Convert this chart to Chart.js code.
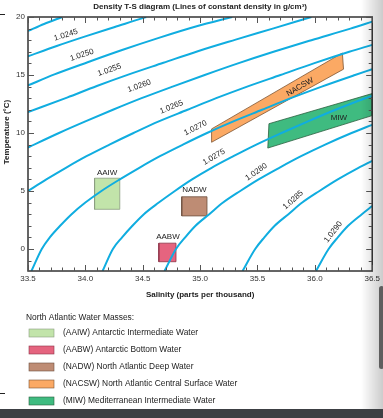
<!DOCTYPE html>
<html>
<head>
<meta charset="utf-8">
<script src="https://cdn.jsdelivr.net/npm/chart.js@4.4.1/dist/chart.umd.min.js"></script>
<style>
  html, body { margin: 0; padding: 0; background: #fff; }
  #wrap { position: relative; width: 383px; height: 418px; overflow: hidden; }
  canvas { position: absolute; left: 0; top: 0; }
  .shade { position: absolute; right: 0; top: 0; width: 22px; height: 409px;
    background: linear-gradient(to right, rgba(0,0,0,0), rgba(0,0,0,0.2)); }
  .scroll { position: absolute; left: 379px; top: 286px; width: 5px; height: 83px; background: #5e5e5e; border-radius: 3px; }
  .bar { position: absolute; left: 0; top: 409px; width: 383px; height: 9px; background: #3c3f43; }
  .mark { position: absolute; left: 0; width: 5px; height: 1px; background: #222; }
</style>
</head>
<body>
<div id="wrap">
  <canvas id="chart" width="383" height="418"></canvas>
  <div class="shade"></div>
  <div class="scroll"></div>
  <div class="bar"></div>
  <div class="mark" style="top:14px"></div>
  <div class="mark" style="top:393px"></div>
</div>
<script>
const FONT = '"Liberation Sans", Arial, Helvetica, sans-serif';

// lines of constant density, [salinity, temperature]
const densities = ['1.0240', '1.0245', '1.0250', '1.0255', '1.0260', '1.0265',
                   '1.0270', '1.0275', '1.0280', '1.0285', '1.0290'];
const c0240 = [[33.5, 18.8], [33.64, 19.4], [33.8, 20]];
const c0245 = [[33.5, 16.6], [33.75, 17.5], [34.0, 18.33], [34.25, 19.12], [34.5, 19.9], [34.53, 20]];
const c0250 = [[33.5, 14.1], [33.73, 15.05], [34.02, 16.1], [34.32, 17.15], [34.64, 18.2], [34.97, 19.2], [35.28, 20]];
const c0255 = [[33.5, 11.8], [33.84, 13.05], [34.1, 14.05], [34.38, 15.05], [34.68, 16.05], [34.98, 17.05],
               [35.31, 18.05], [35.64, 19.02], [35.97, 20]];
const c0260 = [[33.5, 8.75], [33.77, 10], [34.0, 11], [34.24, 12], [34.49, 13], [34.76, 14], [35.04, 15],
               [35.33, 16], [35.64, 17], [35.97, 18], [36.31, 19], [36.5, 19.6]];
const c0265 = [[33.5, 5.0], [33.66, 6], [33.83, 7], [34.01, 8], [34.21, 9], [34.42, 10], [34.64, 11],
               [34.89, 12], [35.14, 13], [35.41, 14], [35.7, 15], [35.99, 16], [36.3, 17], [36.5, 17.6]];
const c0270 = [[33.53, -1.9], [33.62, 0], [33.69, 1], [33.78, 2], [33.88, 3], [34.0, 4], [34.14, 5],
               [34.3, 6], [34.47, 7], [34.65, 8], [34.85, 9], [35.06, 10], [35.29, 11], [35.54, 12],
               [35.79, 13], [36.06, 14], [36.35, 15], [36.5, 15.5]];
const c0275 = [[34.15, -1.9], [34.24, 0], [34.32, 1], [34.41, 2], [34.51, 3], [34.64, 4], [34.78, 5],
               [34.93, 6], [35.1, 7], [35.29, 8], [35.49, 9], [35.71, 10], [35.94, 11], [36.18, 12],
               [36.44, 13], [36.5, 13.2]];
const c0280 = [[34.69, -1.9], [34.79, 0], [34.87, 1], [34.96, 2], [35.08, 3], [35.2, 4], [35.35, 5],
               [35.51, 6], [35.69, 7], [35.88, 8], [36.09, 9], [36.32, 10], [36.5, 10.7]];
const c0285 = [[35.37, -1.9], [35.48, 0], [35.56, 1], [35.65, 2], [35.77, 3], [35.89, 4], [36.04, 5],
               [36.2, 6], [36.38, 7], [36.5, 7.6]];
const c0290 = [[36.01, -1.9], [36.12, 0], [36.2, 1], [36.29, 2], [36.41, 3], [36.5, 3.7]];
const isopycnals = [c0240, c0245, c0250, c0255, c0260, c0265, c0270, c0275, c0280, c0285, c0290];

// water masses (corners as [salinity, temperature])
const massCodes = ['AAIW', 'AABW', 'NADW', 'NACSW', 'MIW'];
const massNames = ['Antarctic Intermediate Water', 'Antarctic Bottom Water', 'North Atlantic Deep Water',
                   'North Atlantic Central Surface Water', 'Mediterranean Intermediate Water'];
const aaiw  = [[34.08, 3.42], [34.3, 3.42], [34.3, 6.1], [34.08, 6.1]];
const aabw  = [[34.64, -1.1], [34.79, -1.1], [34.79, 0.5], [34.64, 0.5]];
const nadw  = [[34.84, 2.85], [35.06, 2.85], [35.06, 4.5], [34.84, 4.5]];
const nacsw = [[35.1, 9.2], [35.1, 10.35], [36.24, 16.9], [36.25, 15.5]];
const miw   = [[35.59, 8.7], [35.6, 10.8], [36.5, 13.4], [36.5, 11.5]];
const massShapes = [aaiw, aabw, nadw, nacsw, miw];

const xTicks = [33.5, 34.0, 34.5, 35.0, 35.5, 36.0, 36.5];
const yTicks = [0, 5, 10, 15, 20];

// where the text sits on the diagram: salinity, temperature, angle
const isoLabelAt = [[33.83, 18.45, -17], [33.97, 16.72, -18], [34.21, 15.43, -19], [34.47, 14.05, -20],
                    [34.75, 12.24, -22], [34.96, 10.43, -27], [35.12, 7.93, -30], [35.49, 6.64, -35],
                    [35.81, 4.22, -42], [36.16, 1.47, -52]];
const massLabelAt = [[34.19, 6.6, 0], [34.72, 1.03, 0], [34.95, 5.09, 0], [35.87, 13.97, -30], [36.21, 11.35, 0]];

const fills = ['#c2e4aa', '#e5647f', '#be8c74', '#fba964', '#3fbb80'];
const edges = ['#8b9d80', '#8e3447', '#6e5040', '#7d5533', '#29603f'];

const datasets = [];
isopycnals.forEach((pts, i) => {
  datasets.push({
    label: densities[i],
    data: pts.map(([s, t]) => ({ x: s, y: t })),
    borderColor: '#10ade0',
    borderWidth: 2,
    pointRadius: 0,
    cubicInterpolationMode: 'monotone',
    fill: false,
    clip: 0,
    order: 1,
  });
});
massShapes.forEach((pts, i) => {
  const ring = [...pts, pts[0]];
  datasets.push({
    label: massCodes[i],
    legendText: `(${massCodes[i]}) ${massNames[i]}`,
    data: ring.map(([s, t]) => ({ x: s, y: t })),
    backgroundColor: fills[i],
    borderColor: edges[i],
    borderWidth: 0.8,
    pointRadius: 0,
    tension: 0,
    fill: 'shape',
    clip: 0,
    order: 2,
  });
});

const line = (ctx, x1, y1, x2, y2) => {
  ctx.beginPath();
  ctx.moveTo(x1, y1);
  ctx.lineTo(x2, y2);
  ctx.stroke();
};

const decor = {
  id: 'decor',
  afterDatasetsDraw(chart) {
    const { ctx, chartArea: a, scales: { x, y } } = chart;
    ctx.save();
    ctx.textAlign = 'center';
    ctx.textBaseline = 'middle';
    ctx.fillStyle = '#222';
    ctx.font = `8px ${FONT}`;

    // density labels on the curves
    isoLabelAt.forEach(([s, t, ang], i) => {
      ctx.save();
      ctx.translate(x.getPixelForValue(s), y.getPixelForValue(t));
      ctx.rotate((ang * Math.PI) / 180);
      ctx.fillText(densities[i + 1], 0, 0);
      ctx.restore();
    });

    // water mass names
    massLabelAt.forEach(([s, t, ang], i) => {
      ctx.save();
      ctx.translate(x.getPixelForValue(s), y.getPixelForValue(t));
      ctx.rotate((ang * Math.PI) / 180);
      ctx.fillText(massCodes[i], 0, 0);
      ctx.restore();
    });

    // frame
    ctx.strokeStyle = '#333';
    ctx.lineWidth = 1.5;
    ctx.strokeRect(a.left, a.top, a.width, a.height);

    // ticks pointing inwards, on all four sides
    ctx.strokeStyle = '#555';
    ctx.lineWidth = 1;
    for (let i = 0; i <= 30; i++) {
      const px = Math.round(x.getPixelForValue(33.5 + i * 0.1)) + 0.5;
      const len = i % 5 === 0 ? 6 : 3.5;
      line(ctx, px, a.bottom, px, a.bottom - len);
      line(ctx, px, a.top, px, a.top + len);
    }
    for (let t = -1; t <= 20; t++) {
      const py = Math.round(y.getPixelForValue(t)) + 0.5;
      const len = t % 5 === 0 ? 6 : 3.5;
      line(ctx, a.left, py, a.left + len, py);
      line(ctx, a.right, py, a.right - len, py);
    }

    // y axis title
    ctx.save();
    ctx.translate(7, 132);
    ctx.rotate(-Math.PI / 2);
    ctx.font = `bold 8px ${FONT}`;
    ctx.fillText('Temperature (°C)', 0, 0);
    ctx.restore();

    // legend
    ctx.textAlign = 'left';
    ctx.font = `8.4px ${FONT}`;
    ctx.fillText('North Atlantic Water Masses:', 26, 318);
    chart.data.datasets.filter((ds) => ds.legendText).forEach((ds, i) => {
      const yc = 333 + i * 17;
      ctx.fillStyle = ds.backgroundColor;
      ctx.fillRect(29, yc - 4, 25, 8);
      ctx.strokeStyle = ds.borderColor;
      ctx.lineWidth = 0.6;
      ctx.strokeRect(29, yc - 4, 25, 8);
      ctx.fillStyle = '#222';
      ctx.fillText(ds.legendText, 63, yc);
    });
    ctx.restore();
  },
};

Chart.defaults.font.family = FONT;

new Chart(document.getElementById('chart'), {
  type: 'line',
  data: { datasets },
  options: {
    responsive: false,
    animation: false,
    events: [],
    layout: { padding: { left: 0, top: 0, right: 8, bottom: 0 } },
    scales: {
      x: {
        type: 'linear',
        min: 33.5,
        max: 36.5,
        grid: { display: false, drawTicks: false },
        border: { display: false },
        afterBuildTicks: (s) => { s.ticks = xTicks.map((v) => ({ value: v })); },
        ticks: {
          padding: 3,
          color: '#333',
          font: { size: 8 },
          maxRotation: 0,
          autoSkip: false,
          callback: (v) => Number(v).toFixed(1),
        },
        title: {
          display: true,
          text: 'Salinity (parts per thousand)',
          color: '#222',
          font: { size: 8, weight: 'bold' },
          padding: { top: 0, bottom: 118 },
        },
        afterFit: (s) => { s.height = 147; },
      },
      y: {
        type: 'linear',
        min: -1.9,
        max: 20,
        grid: { display: false, drawTicks: false },
        border: { display: false },
        afterBuildTicks: (s) => { s.ticks = yTicks.map((v) => ({ value: v })); },
        ticks: {
          padding: 3,
          color: '#333',
          font: { size: 8 },
          autoSkip: false,
        },
        afterFit: (s) => { s.width = 28; },
      },
    },
    plugins: {
      legend: { display: false },
      tooltip: { enabled: false },
      title: {
        display: true,
        text: 'Density T-S diagram (Lines of constant density in g/cm³)',
        color: '#222',
        font: { size: 8, weight: 'bold' },
        fullSize: false,
        padding: { top: 1.5, bottom: 5.9 },
      },
    },
  },
  plugins: [decor],
});
</script>
</body>
</html>
